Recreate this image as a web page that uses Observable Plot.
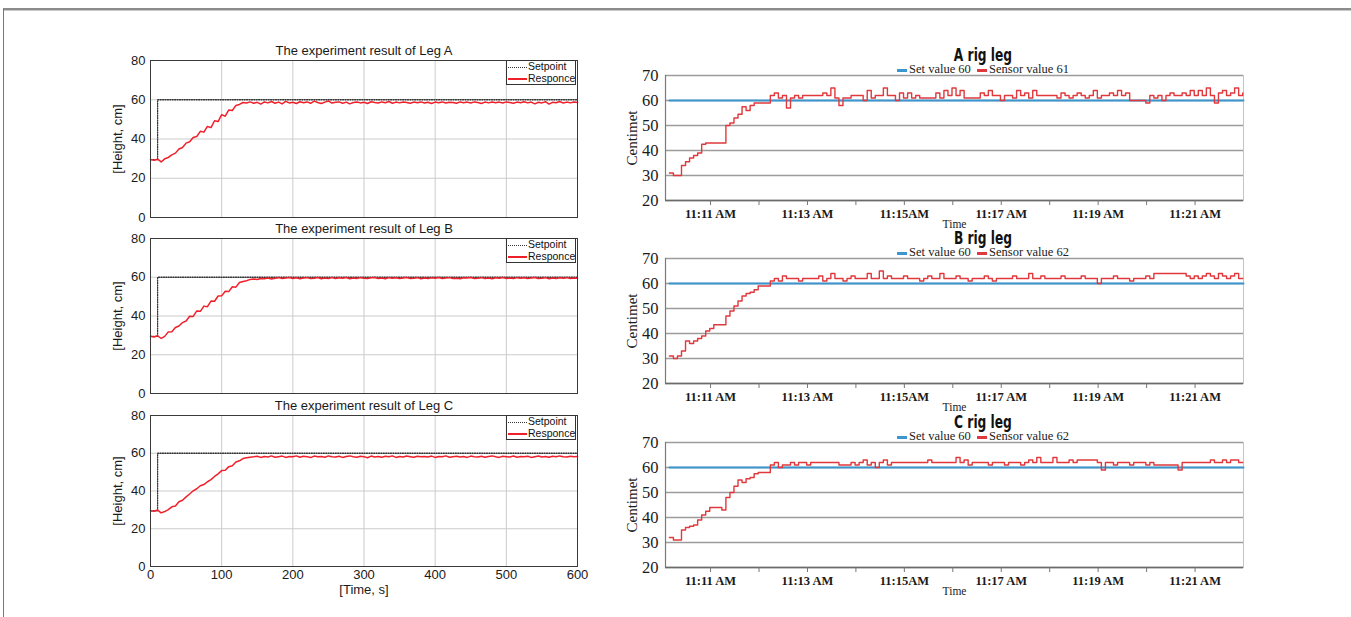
<!DOCTYPE html>
<html><head><meta charset="utf-8">
<script src="https://cdn.jsdelivr.net/npm/d3@7"></script>
<script src="https://cdn.jsdelivr.net/npm/@observablehq/plot@0.6"></script>
<style>
body{margin:0;background:#fff}
#page{position:relative;width:1351px;height:617px;overflow:hidden;background:#fff}
.holder{position:absolute}
.holder svg{background:transparent!important;overflow:visible}
.lg{position:absolute;width:70px;height:25px;border:1px solid #333;background:#fff;font:10.5px 'Liberation Sans',Arial,sans-serif;line-height:11.5px;color:#111;box-sizing:border-box;padding-left:1px;white-space:nowrap}
.sw{display:inline-block;width:19px;vertical-align:middle;margin-right:1px}
.dot{border-top:1.4px dotted #333}
.redl{border-top:2px solid #f0202a}
.rlg{position:absolute;transform:translateX(-50%);font:12.5px 'Liberation Serif','DejaVu Serif',serif;color:#222;white-space:nowrap;line-height:14px}
.rsw{display:inline-block;width:10px;border-top:3px solid;vertical-align:middle;margin-right:2px}
.rtitle{position:absolute;font:bold 17px 'DejaVu Sans',sans-serif;color:#111;white-space:nowrap;line-height:18px;transform:translateX(-50%) scaleX(0.72);transform-origin:center}
</style></head><body><div id="page"></div>
<script>
// ---------- data ----------
const legTitles = ["The experiment result of Leg A","The experiment result of Leg B","The experiment result of Leg C"];
const rigTitles = ["A rig leg","B rig leg","C rig leg"];
const sensorLegendValues = [61, 62, 62];
const setValue = 60;
const setpointTime = [0, 10, 600];
const setpointValue = [29.5, 60, 60];
const leftXTicks = [0,100,200,300,400,500,600];
const leftYTicks = [0,20,40,60,80];
const rightYTicks = [20,30,40,50,60,70];
const minuteTicks = [11,12,13,14,15,16,17,18,19,20,21];
const timeTickValues = [11,13,15,17,19,21];
const timeTickLabels = ["11:11 AM","11:13 AM","11:15AM","11:17 AM","11:19 AM","11:21 AM"];
const leftStep = 5;          // seconds between samples
const rightStart = 10.15;    // minutes after 11:00
const rightStep = 1/12;      // 5 s in minutes

const legA = [29.5,29.2,29.7,28.3,29.9,30.6,31.9,32.8,34.9,35.7,37.9,38.6,40.8,
41.3,43.9,43.5,46.4,45.8,49.3,48.9,52.4,51.6,54.8,54.5,57.1,57.6,
58.6,58.3,58.9,58.2,58.7,57.8,58.9,58.4,59.1,58.2,58.8,57.9,59.2,
58.4,58.7,58.1,59.0,58.5,58.9,58.2,59.3,58.6,58.1,58.8,59.4,58.3,
58.7,58.9,58.2,58.8,57.9,58.6,58.9,58.4,58.7,58.1,59.0,58.6,58.3,
58.9,58.5,59.1,58.2,58.8,58.4,58.9,58.6,58.2,58.8,58.5,58.9,58.3,
58.7,58.1,58.8,58.5,58.9,58.3,58.7,58.6,58.2,58.9,58.5,58.8,58.3,
58.9,58.6,58.1,58.8,58.4,58.9,58.5,58.8,58.3,58.9,58.6,58.2,58.8,
58.5,59.0,58.4,58.8,57.9,58.7,58.4,59.0,57.8,58.7,58.5,59.1,58.3,
58.8,58.4,58.9,58.6];
const legB = [29.6,29.2,29.8,28.4,29.5,31.8,31.9,34.1,34.8,36.6,37.4,39.9,39.8,
42.6,42.4,45.1,44.8,47.7,47.6,50.3,50.4,52.8,52.6,55.1,54.9,57.3,
57.8,58.2,58.9,59.1,58.8,59.4,59.2,59.6,59.1,59.5,59.8,59.3,59.6,
59.9,59.4,59.7,59.2,59.6,59.8,59.3,59.5,59.9,59.2,59.6,59.4,59.8,
59.3,59.7,59.5,59.9,59.2,59.6,59.4,59.8,59.5,59.3,59.7,59.9,59.4,
59.6,59.2,59.8,59.5,59.7,59.3,59.6,59.9,59.4,59.5,59.8,59.2,59.6,
59.4,59.7,59.5,59.9,59.3,59.6,59.8,59.4,59.5,59.2,59.7,59.6,59.9,
59.3,59.5,59.8,59.4,59.6,59.2,59.7,59.5,59.9,59.4,59.6,59.3,59.8,
59.5,59.7,59.4,59.6,59.9,59.3,59.5,59.8,59.2,59.6,59.4,59.7,59.5,
59.8,59.4,59.6,59.5];
const legC = [29.5,29.3,29.9,28.4,29.1,30.1,31.6,32.0,34.3,35.1,36.9,38.4,40.1,
41.2,42.8,43.4,44.9,46.0,47.7,49.1,50.8,51.0,52.9,53.4,55.4,56.0,
57.2,57.6,57.9,58.1,58.4,57.8,58.3,58.0,58.6,57.9,58.2,58.5,57.8,
58.3,58.1,58.6,57.9,58.4,58.2,57.7,58.5,58.1,58.3,57.9,58.6,58.2,
58.0,58.4,57.8,58.3,58.6,58.1,57.9,58.4,58.2,57.6,58.5,58.0,58.3,
57.9,58.4,58.1,58.6,57.8,58.3,58.0,58.5,58.2,57.9,58.4,58.1,58.3,
58.0,58.5,57.8,58.3,58.1,58.6,57.9,58.2,58.4,58.0,58.3,57.8,58.5,
58.2,58.0,58.4,57.9,58.3,58.6,58.1,57.8,58.4,58.2,58.0,58.5,57.9,
58.3,58.1,58.4,57.8,58.2,58.5,58.0,58.3,57.9,58.4,58.1,58.6,58.2,
58.0,58.4,58.1,58.3];

const rigA = [31,30,30,34,35.5,37,38,39,42.5,43,43,43,
43,43,50,51,53,54.5,57.5,56,58,59,59,59,
59,62,63,61,62,57,61,62,61,62,62,62,
62,62,63,62,65,61,58,61,61,62,62,62,
60,64,61,62,62,65,62,62,60,63,61,63,
61,62,61,61,61,61,63,61,64,62,65,62,
64,61,61,61,61,63,62,64,62,62,60,62,
62,61,64,62,63,61,64,62,62,62,62,62,
61,63,62,61,62,63,62,61,62,64,61,62,
62,63,62,64,62,63,60,60,60,60,59,62,
61,62,60,62,63,62,62,63,62,64,62,64,
62,65,62,59,63,64,62,63,65,62,63];
const rigB = [31,30,31,33,37,36,37,38,39,41,42,43.5,
43.5,43.5,47,49,51,53,55,56,56.5,57.5,59,59,
59,61,62,61,63,62,62,62,61,62,62,62,
62,63,61,62,64,62,62,61,62,63,62,62,
62,64,62,62,65,62,63,62,62,62,63,62,
62,62,61,62,63,62,62,64,62,62,62,63,
62,62,61,62,62,62,63,62,61,62,62,62,
62,63,62,62,62,64,62,62,63,62,62,62,
62,63,62,62,62,62,63,62,62,62,60,62,
62,62,63,62,62,62,61,62,62,62,63,62,
64,64,64,64,64,64,64,64,63,62,63,62,
63,64,63,62,64,63,62,63,64,62,62];
const rigC = [32,31,31,35,36,36.5,37,39,41,42.5,44,44,
44,43,48,50,52.5,55,54,55.5,56,57.5,58,58,
58,61,62,60,61,61,62,61,62,62,61,62,
62,62,62,62,62,62,61,61,61,62,61,62,
63,61,62,60,62,63,61,62,62,62,62,62,
62,62,62,62,63,62,62,62,62,62,62,64,
62,63,61,62,62,62,62,61,62,62,62,61,
62,62,62,61,62,63,62,64,62,62,62,64,
62,62,62,63,62,63,63,63,63,63,62,59,
62,62,61,62,62,62,61,62,62,62,61,62,
61,61,61,61,61,61,59,62,62,62,62,62,
62,62,63,62,62,63,62,63,63,62,62];

// ---------- layout ----------
const page = document.getElementById("page");
function addDiv(style, cls, html){const d=document.createElement("div");if(cls)d.className=cls;d.style.cssText=style;if(html)d.innerHTML=html;page.appendChild(d);return d;}
addDiv("position:absolute;left:3px;top:8px;width:1348px;height:2px;background:#8c8c8c");
addDiv("position:absolute;left:3px;top:10px;width:1348px;height:1px;background:#c8c8c8");
addDiv("position:absolute;left:3px;top:9px;width:1px;height:608px;background:#777");

const sansFont = "'Liberation Sans', Arial, sans-serif";
const serifFont = "'Liberation Serif', 'DejaVu Serif', serif";

function leftPanel(values, title, frameTop, frameH, showX){
  const mt = 30, mb = showX ? 40 : 8;
  const data = values.map((v,i)=>({t:i*leftStep, v}));
  const sp = setpointTime.map((t,i)=>({t, v:setpointValue[i]}));
  const marks = [
    Plot.gridX(leftXTicks, {stroke:"#cbcbcb", strokeOpacity:1}),
    Plot.gridY(leftYTicks, {stroke:"#cbcbcb", strokeOpacity:1}),
    Plot.line(sp, {x:"t", y:"v", curve:"step-after", stroke:"#333", strokeWidth:1.3, strokeDasharray:"1,1.4"}),
    Plot.line(data, {x:"t", y:"v", stroke:"#f0202a", strokeWidth:1.5}),
    Plot.frame({stroke:"#3a3a3a"}),
    Plot.axisY(leftYTicks, {tickSize:0, tickPadding:5, label:null, fontSize:13}),
    Plot.text(["[Height, cm]"], {frameAnchor:"left", rotate:-90, dx:-33, textAnchor:"middle", lineAnchor:"middle", fontSize:13}),
    Plot.text([title], {frameAnchor:"top", lineAnchor:"middle", dy:-10, fontSize:13})
  ];
  if (showX) {
    marks.push(Plot.axisX(leftXTicks, {tickSize:0, tickPadding:3, label:null, fontSize:13}));
    marks.push(Plot.text(["[Time, s]"], {frameAnchor:"bottom", lineAnchor:"middle", dy:23, fontSize:13}));
  }
  const p = Plot.plot({
    width:490, height:mt+frameH+mb, marginLeft:50, marginRight:13, marginTop:mt, marginBottom:mb,
    style:{fontFamily:sansFont, fontSize:"13px", color:"#1a1a1a", background:"transparent", overflow:"visible"},
    x:{domain:[0,600], axis: showX ? undefined : null},
    y:{domain:[0,80]},
    marks
  });
  const h = addDiv(`left:100px;top:${frameTop-mt}px`, "holder");
  h.appendChild(p);
  addDiv(`left:506px;top:${frameTop}px`, "lg",
    `<div><span class="sw dot"></span>Setpoint</div><div><span class="sw redl"></span>Responce</div>`);
}

function rightPanel(values, title, sensorVal, frameTop){
  const mt = 30, fh = 125, mb = 32;
  const data = values.map((v,k)=>({m:rightStart + k*rightStep, v}));
  const sp = [{m:rightStart, v:setValue},{m:22.0, v:setValue}];
  const p = Plot.plot({
    width:680, height:mt+fh+mb, marginLeft:65, marginRight:37, marginTop:mt, marginBottom:mb,
    style:{fontFamily:serifFont, fontSize:"12px", color:"#1a1a1a", background:"transparent", overflow:"visible"},
    x:{domain:[10.07,22.0]},
    y:{domain:[20,70]},
    marks:[
      Plot.frame({stroke:"#c4c4c4"}),
      Plot.gridY(rightYTicks, {stroke:"#9c9c9c", strokeOpacity:1, strokeWidth:1.4}),
      Plot.ruleX([10.07], {stroke:"#7a7a7a", strokeWidth:1.2}),
      Plot.ruleY([20], {stroke:"#6a6a6a", strokeWidth:1.4}),
      Plot.line(sp, {x:"m", y:"v", stroke:"#3b95cf", strokeWidth:2}),
      Plot.line(data, {x:"m", y:"v", curve:"step-after", stroke:"#e0383c", strokeWidth:1.4}),
      Plot.axisX(minuteTicks, {tickSize:5, tickFormat:()=>"", label:null, stroke:"#777"}),
      Plot.axisX(timeTickValues, {tickSize:0, tickPadding:9, label:null, fontWeight:"bold", fontSize:12.5,
        tickFormat:d=>timeTickLabels[timeTickValues.indexOf(d)]}),
      Plot.axisY(rightYTicks, {tickSize:0, tickPadding:7, label:null, fontSize:16.5}),
      Plot.text(["Centimet"], {frameAnchor:"left", rotate:-90, dx:-33, textAnchor:"middle", lineAnchor:"middle", fontSize:15}),
      Plot.text(["Time"], {frameAnchor:"bottom", lineAnchor:"middle", dy:24, fontSize:11.5})
    ]
  });
  const h = addDiv(`left:600px;top:${frameTop-mt}px`, "holder");
  h.appendChild(p);
  addDiv(`left:983px;top:${frameTop-29}px`, "rtitle", title);
  addDiv(`left:983px;top:${frameTop-13}px`, "rlg",
    `<span class="rsw" style="border-color:#3b95cf"></span>Set value ${setValue} &nbsp;<span class="rsw" style="border-color:#e0383c"></span>Sensor value ${sensorVal}`);
}

leftPanel(legA, legTitles[0], 60, 157, false);
leftPanel(legB, legTitles[1], 238, 155, false);
leftPanel(legC, legTitles[2], 415, 151, true);
rightPanel(rigA, rigTitles[0], sensorLegendValues[0], 75);
rightPanel(rigB, rigTitles[1], sensorLegendValues[1], 258);
rightPanel(rigC, rigTitles[2], sensorLegendValues[2], 442);
</script></body></html>
